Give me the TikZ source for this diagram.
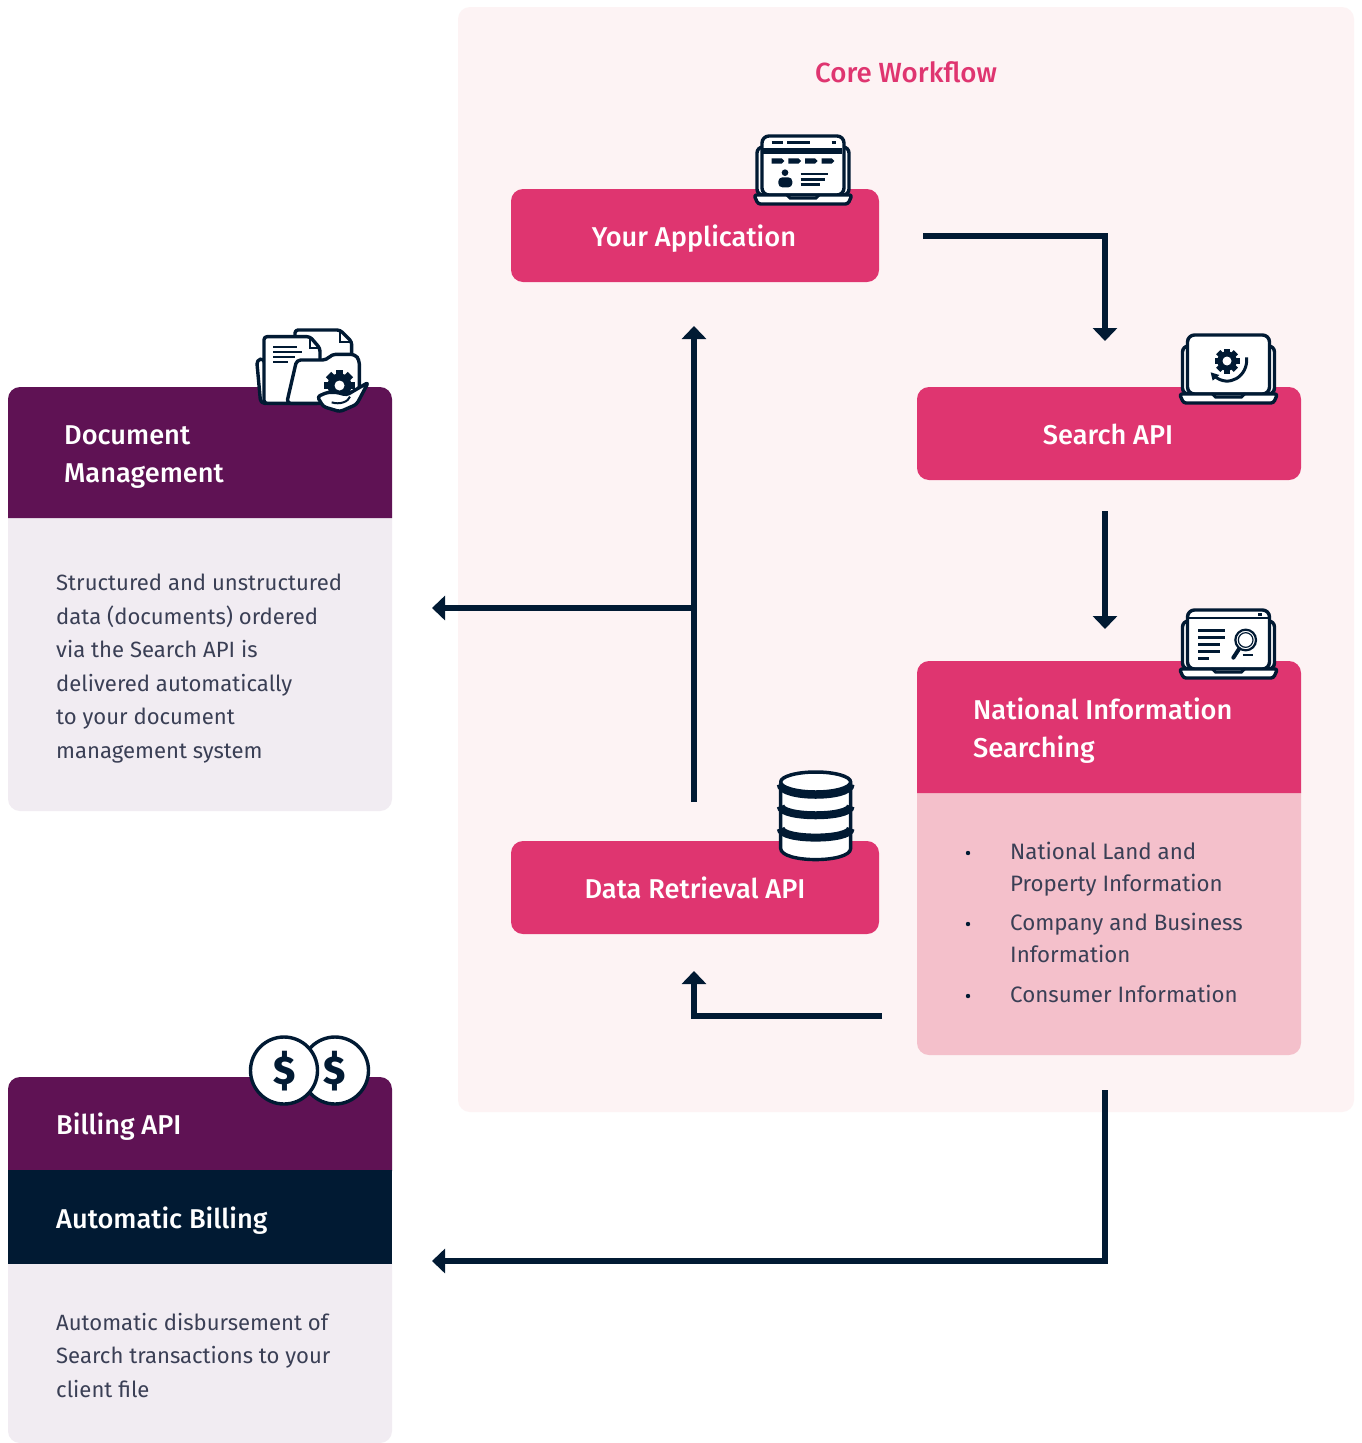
\documentclass[tikz,border=0pt]{standalone}
\usepackage{fontspec}
\setmainfont[BoldFont={Fira Sans Medium}]{Fira Sans}
\newfontfamily\coinfont{Fira Sans ExtraBold}
\usetikzlibrary{arrows.meta}
\definecolor{navy}{HTML}{011A33}
\definecolor{rose}{HTML}{DF3570}
\definecolor{plum}{HTML}{5F1254}
\definecolor{corebg}{HTML}{FDF3F4}
\definecolor{lightrose}{HTML}{F4C0CB}
\definecolor{cardbg}{HTML}{F1ECF2}
\definecolor{bodytext}{HTML}{3A3F55}
\tikzset{
  x=1pt,y=-1pt,
  flow/.style={draw=navy,line width=6pt,-{Triangle[width=24pt,length=13pt]}},
  pinkbox/.style={fill=rose,rounded corners=12pt,minimum height=93pt,inner sep=0pt},
  boxtext/.style={text=white,font=\fontsize{27.2}{32}\selectfont\bfseries,anchor=base,inner sep=0pt},
  headtext/.style={text=white,font=\fontsize{27.2}{38}\selectfont\bfseries,anchor=base west,align=left,inner sep=0pt},
  bodytxt/.style={text=bodytext,font=\fontsize{22.1}{33.5}\selectfont,anchor=base west,align=left,inner sep=0pt},
  nattxt/.style={text=bodytext,font=\fontsize{22.3}{32}\selectfont,anchor=base west,align=left,inner sep=0pt},
  cointext/.style={text=navy,font=\fontsize{40}{40}\selectfont\coinfont,inner sep=0pt},
  icon/.style={draw=navy,line width=3.4pt,fill=white,line join=round,line cap=round},
  iconline/.style={draw=navy,line width=2.4pt,line cap=butt},
}
\newcommand{\laptopicon}[2]{%
 \begin{scope}[shift={(#1,#2)}]
  \draw[icon,rounded corners=6pt] (-46,0) -- (-46,-48) -- (46,-48) -- (46,0) -- cycle;
  \draw[icon,rounded corners=7pt] (-41,0) -- (-41,-59) -- (41,-59) -- (41,0) -- cycle;
  \draw[icon,rounded corners=2.5pt] (-49,0) -- (49,0) -- (45,9) -- (-45,9) -- cycle;
  \draw[draw=navy,line width=3pt,line cap=round] (-16,0) -- (-13,3) -- (13,3) -- (16,0);
 \end{scope}}
\newcommand{\geargraphic}[4]{% cx cy r hole
 \begin{scope}[shift={(#1,#2)}]
  \fill[navy] (0,0) circle (#3*0.78);
  \foreach \a in {0,45,...,315}{
    \fill[navy,rotate=\a] (-#3*0.24,-#3) rectangle (#3*0.24,-#3*0.6);
  }
  \fill[white] (0,0) circle (#4);
 \end{scope}}
\begin{document}
\begin{tikzpicture}
\useasboundingbox (0,0) rectangle (1362,1443);
\fill[white] (0,0) rectangle (1362,1443);
% core panel
\fill[corebg,rounded corners=12pt] (458,7) rectangle (1354,1112);
\node[text=rose,font=\fontsize{27.7}{32}\selectfont\bfseries,inner sep=0pt,anchor=base] (coretitle) at (906,82) {Core Workflow};
% pink boxes
\node[pinkbox,minimum width=368pt] (app) at (695,235.5) {};
\node[pinkbox,minimum width=384pt] (search) at (1109,433.5) {};
\node[pinkbox,minimum width=368pt] (data) at (695,887.5) {};
\node[boxtext] (apptext) at (694,246) {Your Application};
\node[boxtext] (searchtext) at (1108,444) {Search API};
\node[boxtext] (datatext) at (695,898) {Data Retrieval API};
% national card
\fill[lightrose,rounded corners=12pt] (917,780) rectangle (1301,1055);
\fill[rose] (917,793) [rounded corners=12pt] -- (917,661) -- (1301,661) [sharp corners] -- (1301,793) -- cycle;
\node[headtext] (nattitle) at (973,757) {National Information\\Searching};
\node[nattxt] (nat1) at (1010,891) {National Land and\\Property Information};
\node[nattxt] (nat2) at (1010,962.5) {Company and Business\\Information};
\node[nattxt] (nat3) at (1010,1002) {Consumer Information};
\fill[navy] (968,853) circle (2.2) (968,924) circle (2.2) (968,996) circle (2.2);
% document card
\fill[cardbg,rounded corners=12pt] (8,500) rectangle (392,811);
\fill[plum] (8,518) [rounded corners=12pt] -- (8,387) -- (392,387) [sharp corners] -- (392,518) -- cycle;
\node[headtext] (doctitle) at (64,482) {Document\\Management};
\node[bodytxt] (docbody) at (56,758) {Structured and unstructured\\data (documents) ordered\\via the Search API is\\delivered automatically\\to your document\\management system};
% billing card
\fill[cardbg,rounded corners=12pt] (8,1250) rectangle (392,1443);
\fill[plum] (8,1171) [rounded corners=12pt] -- (8,1077) -- (392,1077) [sharp corners] -- (392,1171) -- cycle;
\fill[navy] (8,1170) rectangle (392,1264);
\node[headtext] (billtitle) at (56,1134) {Billing API};
\node[headtext] (autotitle) at (56,1228) {Automatic Billing};
\node[bodytxt] (billbody) at (56,1397) {Automatic disbursement of\\Search transactions to your\\client file};
% connectors
\coordinate (a1) at (923,236);
\coordinate (a1c) at (1105,236);
\coordinate (a1e) at (1105,341);
\coordinate (a2s) at (1105,511);
\coordinate (a2e) at (1105,629);
\coordinate (a3s) at (882,1016);
\coordinate (a3c) at (694,1016);
\coordinate (a3e) at (694,971);
\coordinate (a4s) at (694,802);
\coordinate (a4e) at (694,326);
\coordinate (a5s) at (694,608);
\coordinate (a5e) at (432,608);
\coordinate (a6s) at (1105,1090);
\coordinate (a6c) at (1105,1261);
\coordinate (a6e) at (432,1261);
\draw[flow] (a1) -- (a1c) -- (a1e);
\draw[flow] (a2s) -- (a2e);
\draw[flow] (a3s) -- (a3c) -- (a3e);
\draw[flow] (a4s) -- (a4e);
\draw[flow] (a5s) -- (a5e);
\draw[flow] (a6s) -- (a6c) -- (a6e);
% app icon
\laptopicon{803}{195}
\begin{scope}[shift={(740,120)},scale=1/3]
 \fill[navy] (68,83) rectangle (305,103);
 \draw[iconline] (95,68) -- (130,68) (142,68) -- (210,68) (275,68) -- (288,68);
 \foreach \p in {95,145,195,245}{
  \fill[navy] (\p,115) -- (\p+30,115) -- (\p+38,123) -- (\p+30,131) -- (\p,131) -- cycle;}
 \fill[navy] (135,158) circle (10);
 \fill[navy,rounded corners=4pt] (115,202) -- (115,172) -- (157,172) -- (157,202) -- cycle;
 \draw[iconline] (182,162) -- (265,162) (182,178) -- (255,178) (182,193) -- (240,193);
\end{scope}
% search api icon
\laptopicon{1228.5}{394}
\geargraphic{1227}{361}{12.5}{4.5}
\begin{scope}[shift={(1170,320)},scale=1/3]
 \draw[navy,line width=3pt] (230,112) .. controls (235,170) and (175,205) .. (133,168);
 \fill[navy] (122,157) -- (148,165) -- (128,182) -- cycle;
\end{scope}
% national icon
\laptopicon{1228.5}{669}
\begin{scope}[shift={(1170,595)},scale=1/3]
 \draw[navy,line width=2pt] (55,68) -- (295,68);
 \fill[navy] (265,54) rectangle (276,63);
 \draw[iconline,line width=3pt] (85,107) -- (165,107) (85,128) -- (165,128) (85,148) -- (150,148) (85,170) -- (150,170) (85,190) -- (118,190);
 \draw[navy,line width=2.2pt] (227,135) circle (31);
 \draw[navy,line width=1.2pt] (227,135) circle (22);
 \draw[navy,line width=4pt,line cap=round] (207,162) -- (190,188);
 \draw[iconline] (218,180) -- (248,180);
\end{scope}
% database icon
\begin{scope}[shift={(760,760)},scale=1/3]
 \draw[icon] (62,70) -- (62,265) .. controls (62,310) and (272,310) .. (272,265) -- (272,70) -- cycle;
 \draw[navy,line width=8pt] (62,205) .. controls (62,242) and (272,242) .. (272,205);
 \draw[navy,line width=8pt] (62,138) .. controls (62,175) and (272,175) .. (272,138);
 \draw[navy,line width=8pt] (62,72) .. controls (62,115) and (272,115) .. (272,72);
 \draw[icon,line width=3.5pt] (167,66) ellipse (105 and 30);
\end{scope}
% coins
\draw[icon] (335,1070.5) circle (33.5);
\draw[icon] (284,1070.5) circle (33.5);
\node[cointext] (coinb) at (334.5,1071) {\$};
\node[cointext] (coina) at (285,1071) {\$};
% document icon
\begin{scope}[shift={(240,315)},scale=1/3]
 \draw[icon,rounded corners=3pt] (165,140) -- (165,45) -- (300,45) -- (335,80) -- (335,140) -- cycle;
 \draw[navy,line width=2pt] (300,45) -- (300,80) -- (335,80);
 \draw[icon,rounded corners=4pt] (50,135) -- (72,130) -- (90,265) -- (62,265) -- cycle;
 \draw[icon,rounded corners=3pt] (72,265) -- (72,65) -- (210,65) -- (240,100) -- (240,265) -- cycle;
 \draw[navy,line width=2pt] (210,65) -- (210,100) -- (240,100);
 \draw[iconline,line width=2.2pt] (100,95) -- (170,95) (100,110) -- (185,110) (100,125) -- (165,125) (100,142) -- (145,142);
 \draw[icon,rounded corners=4pt] (140,265) -- (170,135) -- (260,135) -- (275,118) -- (345,118) -- (358,135) -- (358,225) -- (330,265) -- cycle;
\end{scope}
\geargraphic{339.5}{385.5}{15.5}{5}
\begin{scope}[shift={(240,315)},scale=1/3]
 \draw[icon,rounded corners=3pt] (232,245) -- (262,232) -- (290,232) -- (320,240) -- (385,202) -- (350,268) -- (300,290) -- (250,275) -- cycle;
 \draw[navy,line width=2pt] (275,262) .. controls (300,270) and (325,260) .. (330,245);
\end{scope}
\end{tikzpicture}
\end{document}
